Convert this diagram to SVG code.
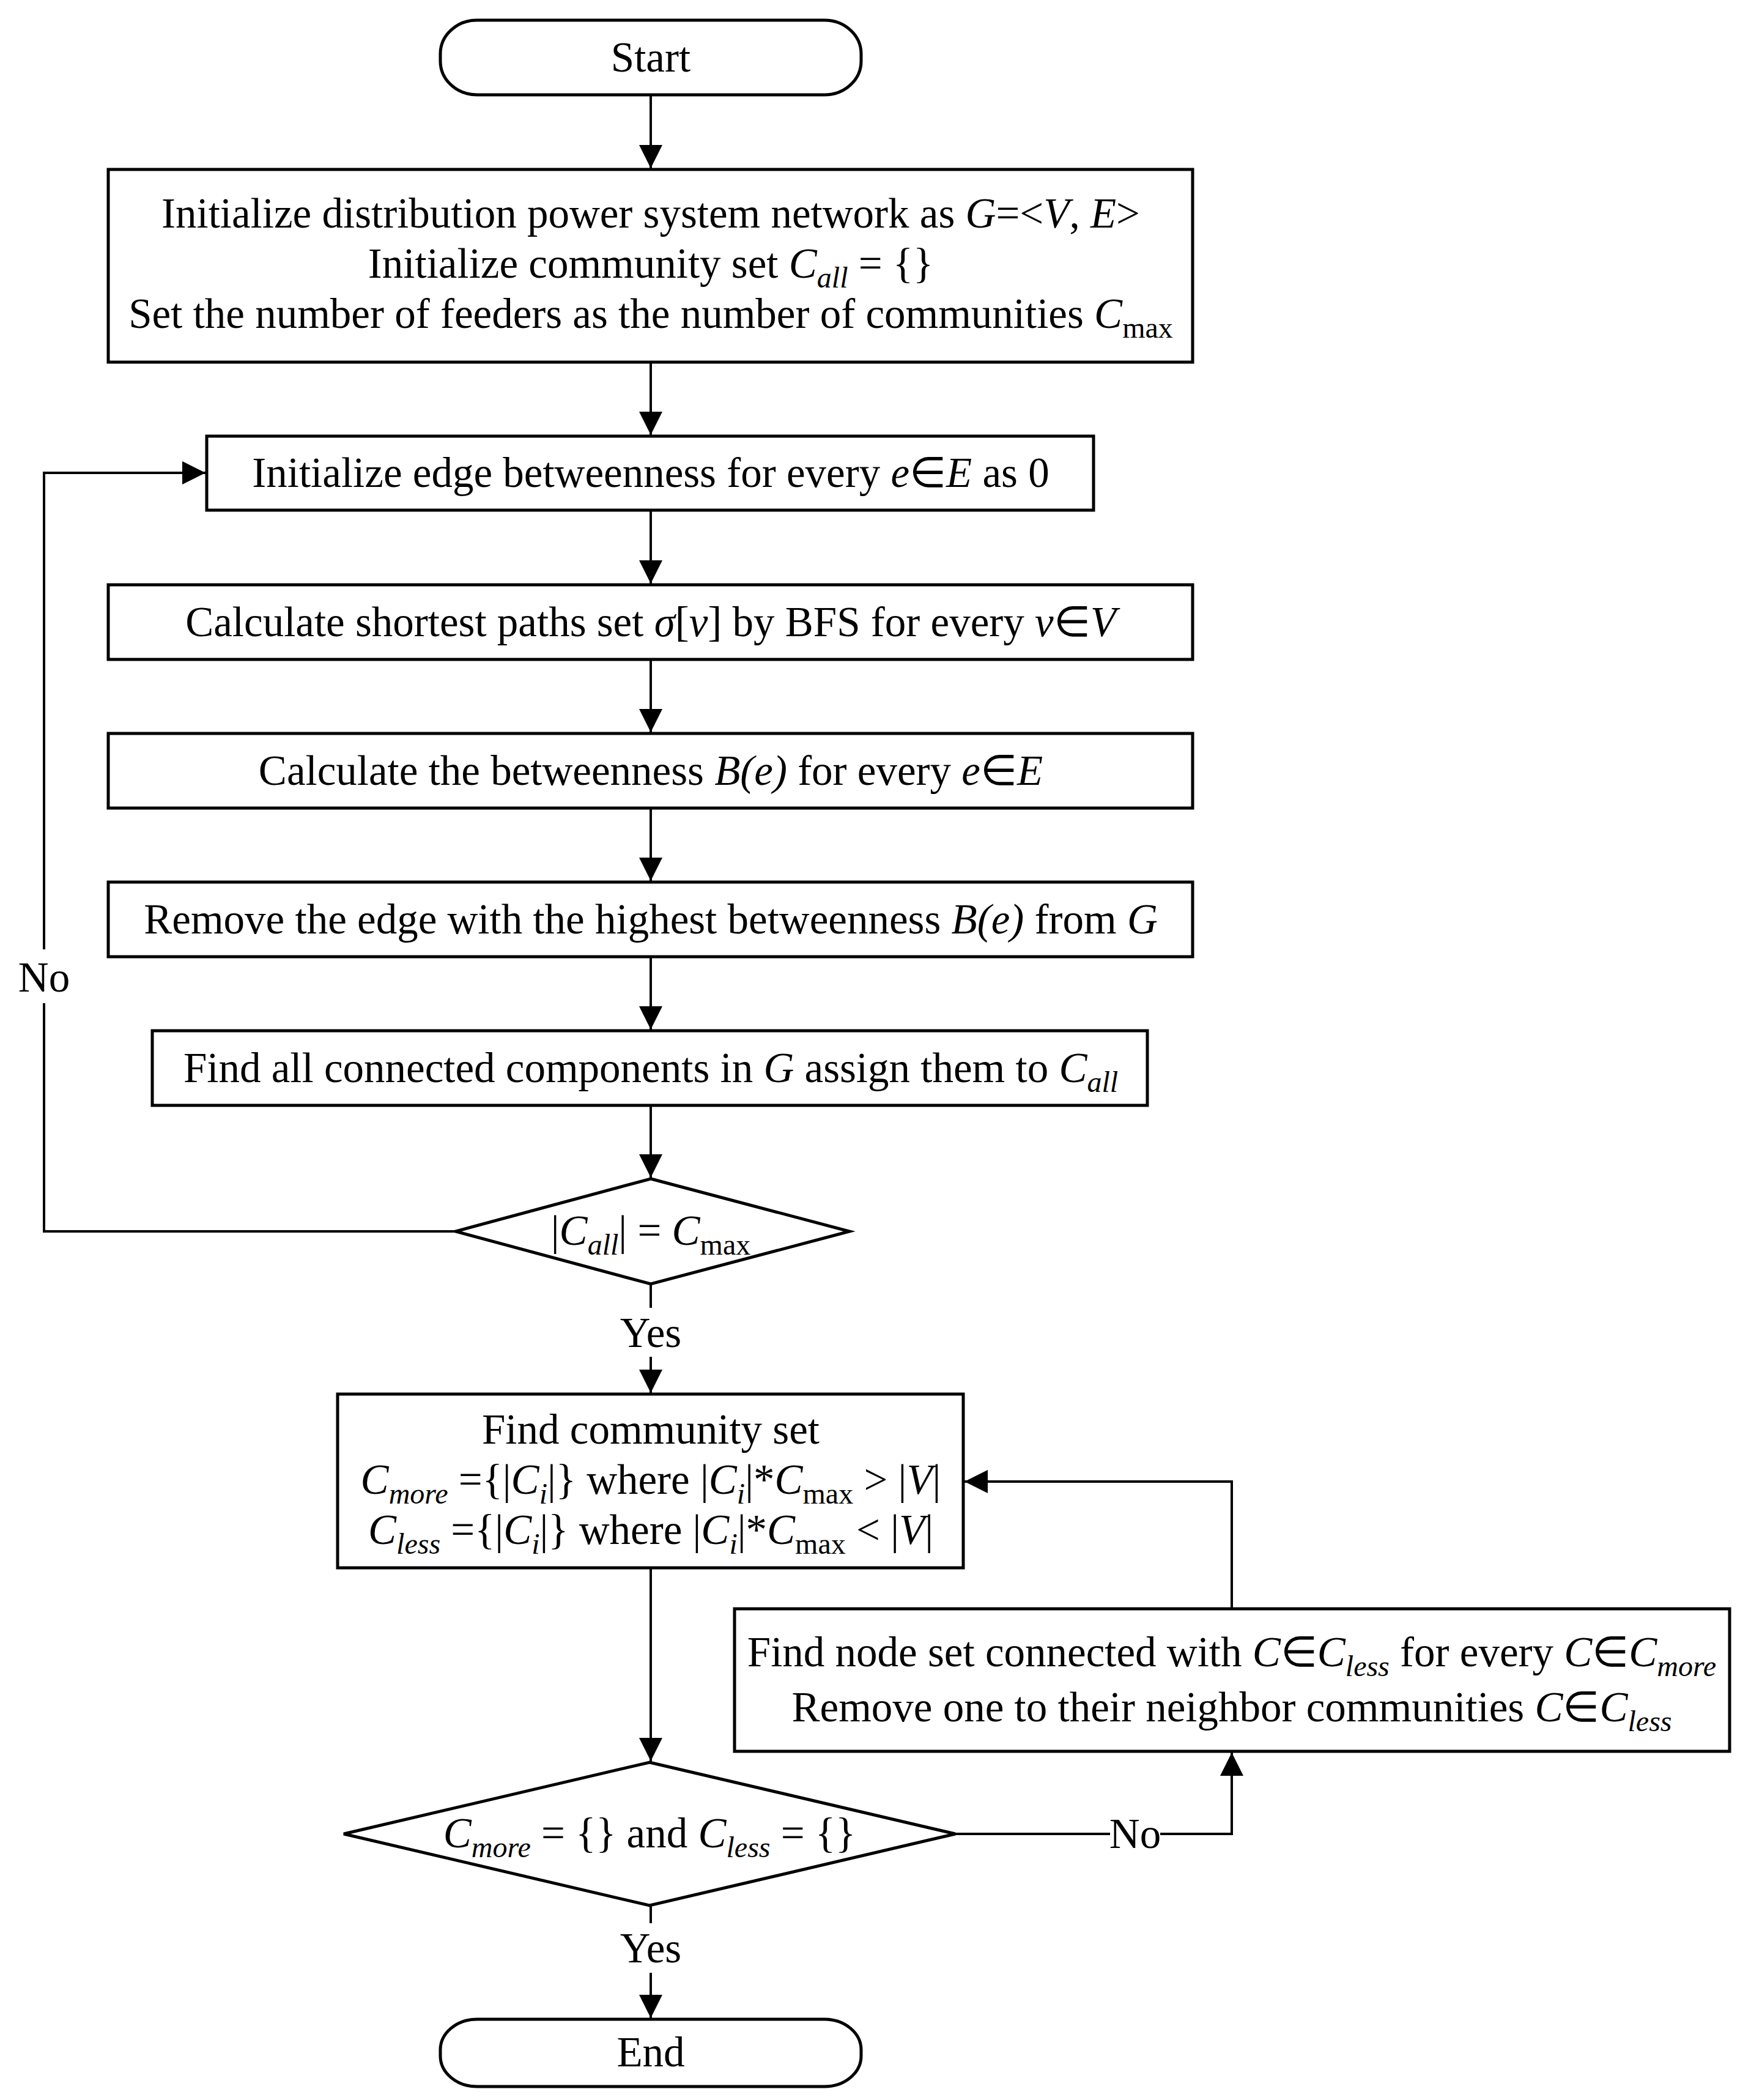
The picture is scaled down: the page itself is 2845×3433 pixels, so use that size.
<svg xmlns="http://www.w3.org/2000/svg" width="2845" height="3433" viewBox="0 0 2845 3433">
<style>
.box{fill:#fff;stroke:#000;stroke-width:5}
.ln{fill:none;stroke:#000;stroke-width:4}
.t{font-family:"Liberation Serif","Times New Roman",serif;font-size:69px;text-anchor:middle;fill:#000}
.i{font-style:italic}
.s{font-size:48px}
</style>
<defs>
<marker id="arr" markerUnits="userSpaceOnUse" viewBox="0 0 38 38" markerWidth="38" markerHeight="38" refX="38" refY="19" orient="auto">
<path d="M0,0 L38,19 L0,38 z" fill="#000"/>
</marker>
</defs>
<rect width="2845" height="3433" fill="#fff"/>
<g id="connectors">
<path class="ln" d="M1064,155 V275" marker-end="url(#arr)"/>
<path class="ln" d="M1064,592 V711" marker-end="url(#arr)"/>
<path class="ln" d="M1064,834 V954" marker-end="url(#arr)"/>
<path class="ln" d="M1064,1078 V1197" marker-end="url(#arr)"/>
<path class="ln" d="M1064,1321 V1440" marker-end="url(#arr)"/>
<path class="ln" d="M1064,1564 V1683" marker-end="url(#arr)"/>
<path class="ln" d="M1064,1807 V1925" marker-end="url(#arr)"/>
<path class="ln" d="M745,2013 H72 V1640"/>
<path class="ln" d="M72,1552 V773 H336" marker-end="url(#arr)"/>
<path class="ln" d="M1064,2099 V2138"/>
<path class="ln" d="M1064,2218 V2277" marker-end="url(#arr)"/>
<path class="ln" d="M1064,2563 V2879" marker-end="url(#arr)"/>
<path class="ln" d="M1562,2998 H1815"/>
<path class="ln" d="M1897,2998 H2014 V2865" marker-end="url(#arr)"/>
<path class="ln" d="M2014,2630 V2422 H1577" marker-end="url(#arr)"/>
<path class="ln" d="M1064,3115 V3144"/>
<path class="ln" d="M1064,3225 V3299" marker-end="url(#arr)"/>
<text class="t" x="72" y="1621">No</text>
<text class="t" x="1064" y="2202">Yes</text>
<text class="t" x="1856" y="3021">No</text>
<text class="t" x="1064" y="3208">Yes</text>
</g>
<g id="start">
<rect class="box" x="720" y="33" width="688" height="122" rx="60" ry="55"/>
<text class="t" x="1064" y="117">Start</text>
</g>
<g id="init">
<rect class="box" x="177" y="277" width="1773" height="315"/>
<text class="t" x="1064" y="372">Initialize distribution power system network as <tspan class="i">G</tspan>=&lt;<tspan class="i">V</tspan>, <tspan class="i">E</tspan>&gt;</text>
<text class="t" x="1064" y="454">Initialize community set <tspan class="i">C</tspan><tspan class="i s" dy="16">all</tspan><tspan dy="-16"> = {}</tspan></text>
<text class="t" x="1064" y="536">Set the number of feeders as the number of communities <tspan class="i">C</tspan><tspan class="s" dy="16">max</tspan></text>
</g>
<g id="initEdge">
<rect class="box" x="338" y="713" width="1450" height="121"/>
<text class="t" x="1064" y="796">Initialize edge betweenness for every <tspan class="i">e</tspan>∈<tspan class="i">E</tspan> as 0</text>
</g>
<g id="shortest">
<rect class="box" x="177" y="956" width="1773" height="122"/>
<text class="t" x="1064" y="1040">Calculate shortest paths set <tspan class="i">σ</tspan>[<tspan class="i">v</tspan>] by BFS for every <tspan class="i">v</tspan>∈<tspan class="i">V</tspan></text>
</g>
<g id="betweenness">
<rect class="box" x="177" y="1199" width="1773" height="122"/>
<text class="t" x="1064" y="1283">Calculate the betweenness <tspan class="i">B(e)</tspan> for every <tspan class="i">e</tspan>∈<tspan class="i">E</tspan></text>
</g>
<g id="remove">
<rect class="box" x="177" y="1442" width="1773" height="122"/>
<text class="t" x="1064" y="1526">Remove the edge with the highest betweenness <tspan class="i">B(e)</tspan> from <tspan class="i">G</tspan></text>
</g>
<g id="components">
<rect class="box" x="249" y="1685" width="1627" height="122"/>
<text class="t" x="1064" y="1769">Find all connected components in <tspan class="i">G</tspan> assign them to <tspan class="i">C</tspan><tspan class="i s" dy="16">all</tspan></text>
</g>
<g id="check1">
<polygon class="box" points="1064,1927 1389,2013 1064,2099 745,2013"/>
<text class="t" x="1064" y="2035">|<tspan class="i">C</tspan><tspan class="i s" dy="16">all</tspan><tspan dy="-16">| = </tspan><tspan class="i">C</tspan><tspan class="s" dy="16">max</tspan></text>
</g>
<g id="communitySet">
<rect class="box" x="552" y="2279" width="1023" height="284"/>
<text class="t" x="1064" y="2360">Find community set</text>
<text class="t" x="1064" y="2442"><tspan class="i">C</tspan><tspan class="i s" dy="16">more</tspan><tspan dy="-16"> ={|</tspan><tspan class="i">C</tspan><tspan class="i s" dy="16">i</tspan><tspan dy="-16">|} where |</tspan><tspan class="i">C</tspan><tspan class="i s" dy="16">i</tspan><tspan dy="-16">|*</tspan><tspan class="i">C</tspan><tspan class="s" dy="16">max</tspan><tspan dy="-16"> &gt; |</tspan><tspan class="i">V</tspan>|</text>
<text class="t" x="1064" y="2524"><tspan class="i">C</tspan><tspan class="i s" dy="16">less</tspan><tspan dy="-16"> ={|</tspan><tspan class="i">C</tspan><tspan class="i s" dy="16">i</tspan><tspan dy="-16">|} where |</tspan><tspan class="i">C</tspan><tspan class="i s" dy="16">i</tspan><tspan dy="-16">|*</tspan><tspan class="i">C</tspan><tspan class="s" dy="16">max</tspan><tspan dy="-16"> &lt; |</tspan><tspan class="i">V</tspan>|</text>
</g>
<g id="nodeSet">
<rect class="box" x="1201" y="2630" width="1627" height="233"/>
<text class="t" x="2014" y="2724">Find node set connected with <tspan class="i">C</tspan>∈<tspan class="i">C</tspan><tspan class="i s" dy="16">less</tspan><tspan dy="-16"> for every </tspan><tspan class="i">C</tspan>∈<tspan class="i">C</tspan><tspan class="i s" dy="16">more</tspan></text>
<text class="t" x="2014" y="2814">Remove one to their neighbor communities <tspan class="i">C</tspan>∈<tspan class="i">C</tspan><tspan class="i s" dy="16">less</tspan></text>
</g>
<g id="check2">
<polygon class="box" points="1062,2881 1562,2998 1062,3115 562,2998"/>
<text class="t" x="1062" y="3020"><tspan class="i">C</tspan><tspan class="i s" dy="16">more</tspan><tspan dy="-16"> = {} and </tspan><tspan class="i">C</tspan><tspan class="i s" dy="16">less</tspan><tspan dy="-16"> = {}</tspan></text>
</g>
<g id="end">
<rect class="box" x="720" y="3301" width="688" height="110" rx="60" ry="50"/>
<text class="t" x="1064" y="3378">End</text>
</g>
</svg>
